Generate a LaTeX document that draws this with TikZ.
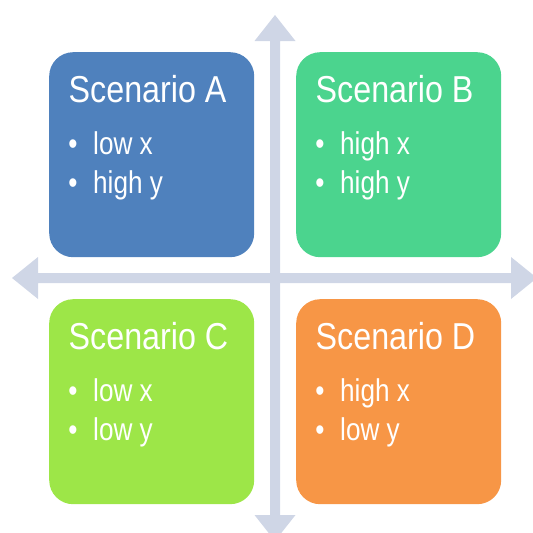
\documentclass[tikz,border=0pt]{standalone}
\usepackage{fontspec}
\newfontfamily\narrowsf[FakeStretch=0.83]{Liberation Sans}
\newfontfamily\narrowtitle[FakeStretch=0.86]{Liberation Sans}
\definecolor{axisc}{HTML}{CFD6E6}
\definecolor{cA}{HTML}{4F81BD}
\definecolor{cB}{HTML}{4BD48E}
\definecolor{cC}{HTML}{9DE648}
\definecolor{cD}{HTML}{F79646}
\tikzset{
  quadbox/.style={rounded corners=24pt, minimum width=205pt, minimum height=205pt, inner sep=0pt, anchor=north west},
  titletext/.style={anchor=base west, inner sep=0pt, text=white, font=\narrowtitle\fontsize{37.5}{40}\selectfont},
  itemtext/.style={anchor=base west, inner sep=0pt, text=white, font=\narrowsf\fontsize{31.5}{34}\selectfont},
  bulletmark/.style={anchor=base, inner sep=0pt, text=white, font=\narrowsf\fontsize{31.5}{34}\selectfont},
  axisfill/.style={fill=axisc, draw=none}
}
\newcommand\scenbox[7]{%
  \node[quadbox, fill=#4] (#1) at (#2,#3) {};
  \node[titletext] (#1t) at ([xshift=19.5pt,yshift=-50pt]#1.north west) {#5};
  \node[bulletmark] (#1b1) at ([xshift=24pt,yshift=-102pt]#1.north west) {•};
  \node[itemtext] (#1i1) at ([xshift=44pt,yshift=-102pt]#1.north west) {#6};
  \node[bulletmark] (#1b2) at ([xshift=24pt,yshift=-141pt]#1.north west) {•};
  \node[itemtext] (#1i2) at ([xshift=44pt,yshift=-141pt]#1.north west) {#7};
}
\begin{document}
\begin{tikzpicture}[x=1pt,y=-1pt]
\useasboundingbox (0,0) rectangle (533,533);
\clip (0,0) rectangle (533,533);
% horizontal axis (double-headed block arrow)
\fill[axisfill] (12,278) -- (38,257) -- (38,273) -- (511,273) -- (511,257) -- (537,278)
  -- (511,299) -- (511,283) -- (38,283) -- (38,299) -- cycle;
% vertical axis
\fill[axisfill] (275,15) -- (295.5,41) -- (280,41) -- (280,515) -- (295.5,515) -- (275,541)
  -- (254.5,515) -- (270,515) -- (270,41) -- (254.5,41) -- cycle;
\scenbox{A}{49}{52}{cA}{Scenario A}{low x}{high y}
\scenbox{B}{296}{52}{cB}{Scenario B}{high x}{high y}
\scenbox{C}{49}{299}{cC}{Scenario C}{low x}{low y}
\scenbox{D}{296}{299}{cD}{Scenario D}{high x}{low y}
\end{tikzpicture}
\end{document}
